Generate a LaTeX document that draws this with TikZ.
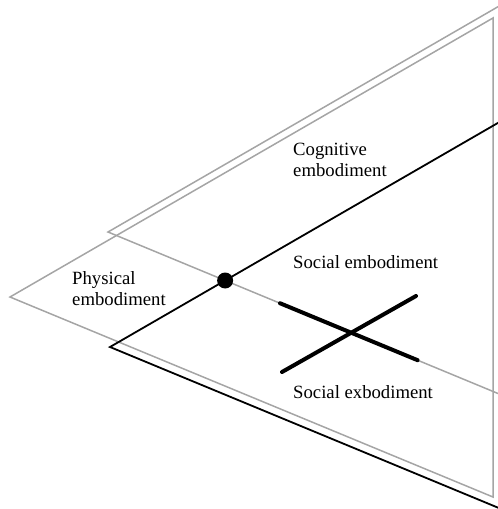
\documentclass[tikz,border=0pt]{standalone}
\usepackage{fontspec}
\setmainfont{Liberation Serif}
\usetikzlibrary{calc}
\definecolor{edgegray}{RGB}{165,165,165}
\begin{document}
\begin{tikzpicture}[x=1pt,y=-1pt,
  grayedge/.style={draw=edgegray, line width=1.5pt, line join=miter},
  blackedge/.style={draw=black, line width=1.8pt, line join=miter},
  crossbar/.style={draw=black, line width=4pt, line cap=round},
  hubdot/.style={circle, fill=black, minimum size=16pt, inner sep=0pt},
  tag/.style={font=\fontsize{18.7}{21.5}\selectfont, align=left, inner sep=0pt, anchor=base west},
]
\useasboundingbox (0,0) rectangle (498,509);
\clip (0,0) rectangle (498,509);

% three congruent wedges, each opening to the right
\coordinate (phyTip) at (10,297);
\coordinate (phyTop) at ($(phyTip)+(483,-279)$);
\coordinate (phyBot) at ($(phyTip)+(483,200)$);

\coordinate (cogTip) at (108,232);
\coordinate (cogTop) at ($(cogTip)+(483,-279)$);
\coordinate (cogBot) at ($(cogTip)+(483,200)$);

\coordinate (socTip) at (110,347);
\coordinate (socTop) at ($(socTip)+(483,-279)$);
\coordinate (socBot) at ($(socTip)+(483,200)$);

% physical embodiment
\draw[grayedge] (phyTop) -- (phyTip) -- (phyBot) -- cycle;
% cognitive embodiment
\draw[grayedge] (cogTop) -- (cogTip) -- (cogBot);
% social embodiment
\draw[blackedge] (socTop) -- (socTip) -- (socBot);

% crossing-out mark on the cognitive lower boundary
\coordinate (xa1) at ($(cogTip)!0.356!(cogBot)$);
\coordinate (xa2) at ($(cogTip)!0.641!(cogBot)$);
\coordinate (xb1) at (282,372);
\coordinate (xb2) at (416,296);
\draw[crossbar] (xa1) -- (xa2);
\draw[crossbar] (xb1) -- (xb2);

% meeting point of the cognitive and social boundaries
\node[hubdot] (hub) at (intersection of cogTip--cogBot and socTip--socTop) {};

% labels (multi-line ones are placed by their last baseline)
\node[tag] (cogLabel) at (293,176.5) {Cognitive\\embodiment};
\node[tag] (socLabel) at (293,268) {Social embodiment};
\node[tag] (phyLabel) at (72,305.5) {Physical\\embodiment};
\node[tag] (exoLabel) at (293,398) {Social exbodiment};
\end{tikzpicture}
\end{document}
